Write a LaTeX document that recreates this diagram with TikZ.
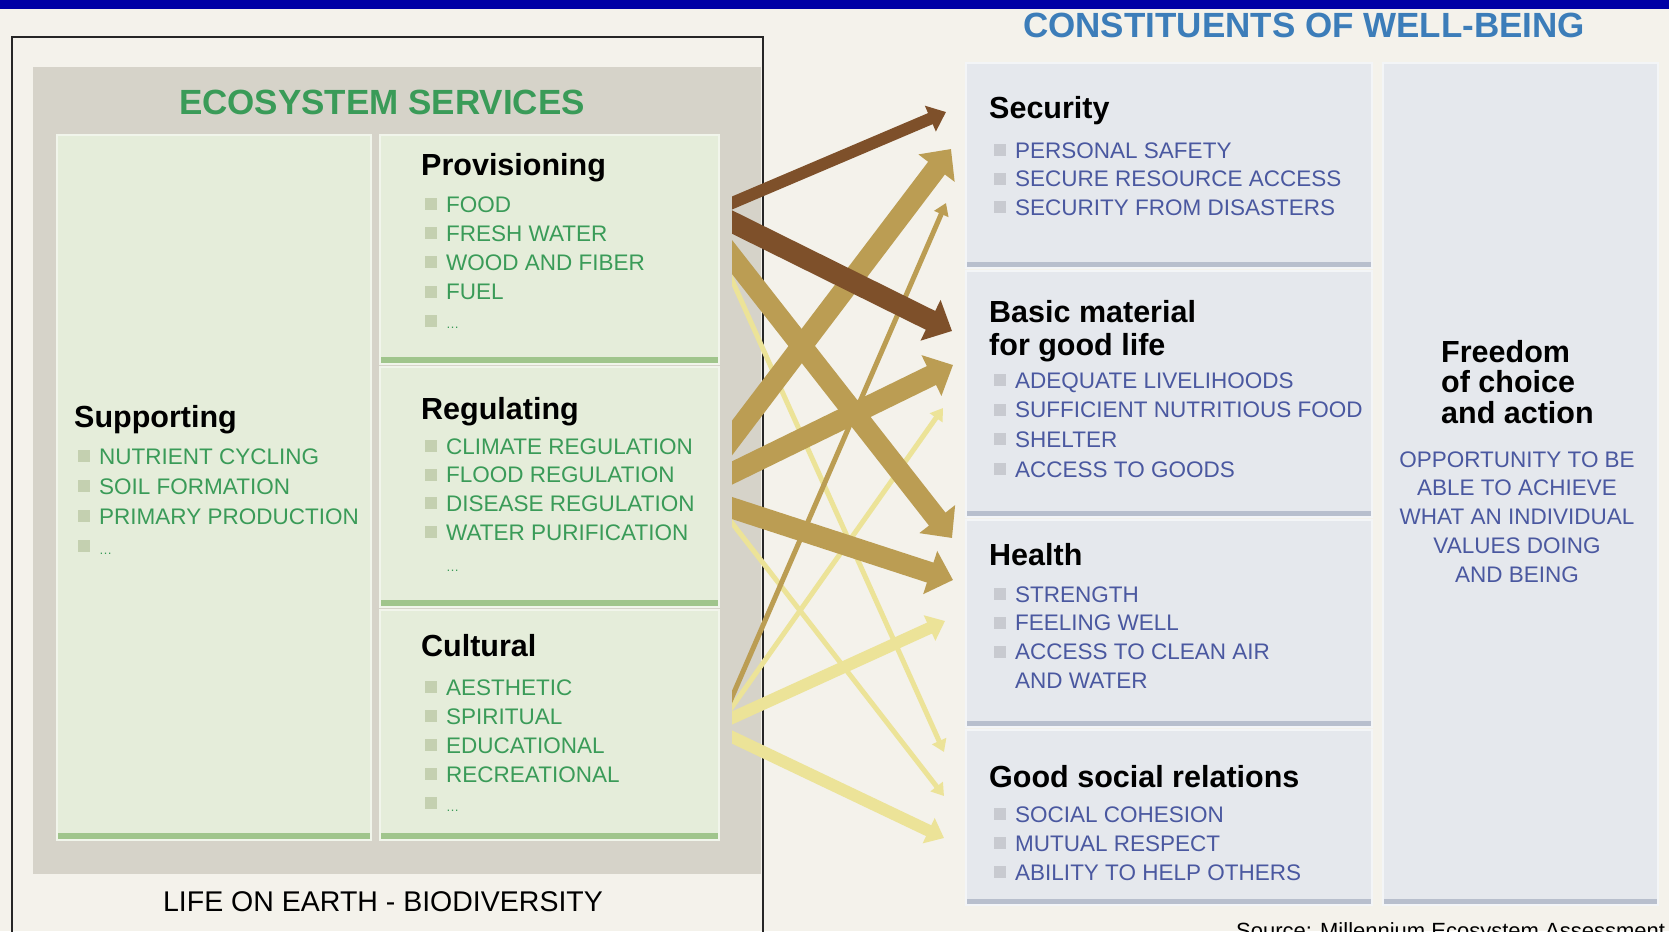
\documentclass[tikz,border=0pt]{standalone}
\usepackage{fontspec}
\setmainfont{Liberation Sans}
\usetikzlibrary{arrows.meta,calc}

\definecolor{bgcream}{RGB}{244,242,235}
\definecolor{topblue}{RGB}{0,0,165}
\definecolor{panelgray}{RGB}{214,211,201}
\definecolor{esgreen}{RGB}{229,237,218}
\definecolor{esbar}{RGB}{160,197,140}
\definecolor{estext}{RGB}{58,155,88}
\definecolor{esbullet}{RGB}{196,208,176}
\definecolor{wbfill}{RGB}{229,232,237}
\definecolor{wbbar}{RGB}{184,191,205}
\definecolor{wbtext}{RGB}{74,88,160}
\definecolor{wbtitle}{RGB}{60,125,185}
\definecolor{wbbullet}{RGB}{200,202,208}
\definecolor{linkbrown}{RGB}{126,80,42}
\definecolor{linktan}{RGB}{187,157,83}
\definecolor{linkyellow}{RGB}{236,227,152}

\newcommand{\gbul}{{\color{esbullet}\rule[2pt]{12pt}{12pt}}\hspace{9pt}}
\newcommand{\bbul}{{\color{wbbullet}\rule[2pt]{12pt}{12pt}}\hspace{9pt}}
\newcommand{\fewdots}{{\fontsize{13}{13}\selectfont\ldots}}

\tikzset{
  esbox/.style={fill=esgreen, draw=white!45!esgreen, line width=1.5pt, inner sep=0pt,
    path picture={\fill[esbar] ([yshift=7pt]path picture bounding box.south west)
      rectangle (path picture bounding box.south east);}},
  wbbox/.style={fill=wbfill, draw=white!55!wbfill, line width=1.5pt, inner sep=0pt,
    path picture={\fill[wbbar] ([yshift=6pt]path picture bounding box.south west)
      rectangle (path picture bounding box.south east);}},
  boxtitle/.style={anchor=base west, inner sep=0pt, font=\fontsize{30.5}{36}\bfseries\selectfont},
  esitem/.style={anchor=base west, inner sep=0pt, text=estext, font=\fontsize{22.5}{27}\selectfont},
  wbitem/.style={anchor=base west, inner sep=0pt, text=wbtext, font=\fontsize{22.5}{27}\selectfont},
  link/.style={shorten <=-25pt},
  strong/.style={line width=21pt, -{Triangle[length=24pt,width=44pt]}},
  medium/.style={line width=12pt, -{Triangle[length=17pt,width=27pt]}},
  weak/.style={line width=5pt, -{Triangle[length=12pt,width=15pt]}},
}

\begin{document}
\begin{tikzpicture}[x=1pt,y=-1pt]
  \useasboundingbox (0,0) rectangle (1669,931);
  \fill[bgcream] (0,0) rectangle (1669,931);
  \fill[topblue] (0,0) rectangle (1669,9);

  % ecosystem services side
  \draw[line width=2pt, draw=black!85] (12,37) rectangle (763,990);
  \fill[panelgray] (33,67) rectangle (761,874);
  \node[anchor=base, inner sep=0pt, text=estext, font=\fontsize{35}{40}\bfseries\selectfont]
    (es-title) at (382,115) {ECOSYSTEM SERVICES};

  \node[esbox, minimum width=314pt, minimum height=705pt] (supp) at (214,487.5) {};
  \node[esbox, minimum width=339pt, minimum height=229pt] (prov) at (549.5,249.5) {};
  \node[esbox, minimum width=339pt, minimum height=240pt] (reg) at (549.5,487) {};
  \node[esbox, minimum width=339pt, minimum height=230pt] (cult) at (549.5,725) {};

  \node[boxtitle] (supp-title) at (74,427) {Supporting};
  \foreach \txt [count=\i] in {NUTRIENT CYCLING, SOIL FORMATION, PRIMARY PRODUCTION, \fewdots}
    \node[esitem] (supp-\i) at (78,{464+30*(\i-1)}) {\gbul\txt};

  \node[boxtitle] (prov-title) at (421,175) {Provisioning};
  \foreach \txt [count=\i] in {FOOD, FRESH WATER, WOOD AND FIBER, FUEL, \fewdots}
    \node[esitem] (prov-\i) at (425,{212+29.2*(\i-1)}) {\gbul\txt};

  \node[boxtitle] (reg-title) at (421,419) {Regulating};
  \foreach \txt [count=\i] in {CLIMATE REGULATION, FLOOD REGULATION, DISEASE REGULATION, WATER PURIFICATION}
    \node[esitem] (reg-\i) at (425,{454+28.7*(\i-1)}) {\gbul\txt};
  \node[esitem] (reg-5) at (446,571) {\fewdots};

  \node[boxtitle] (cult-title) at (421,656) {Cultural};
  \foreach \txt [count=\i] in {AESTHETIC, SPIRITUAL, EDUCATIONAL, RECREATIONAL, \fewdots}
    \node[esitem] (cult-\i) at (425,{695+29*(\i-1)}) {\gbul\txt};

  \node[anchor=base, inner sep=0pt, font=\fontsize{28.5}{32}\selectfont]
    (biodiv) at (383,911) {LIFE ON EARTH - BIODIVERSITY};

  % well-being side
  \node[anchor=base west, inner sep=0pt, text=wbtitle, font=\fontsize{35}{40}\bfseries\selectfont]
    (wb-title) at (1023,38) {CONSTITUENTS OF WELL-BEING};

  \node[wbbox, minimum width=406pt, minimum height=205pt] (sec) at (1169,165.5) {};
  \node[wbbox, minimum width=406pt, minimum height=246pt] (basic) at (1169,394) {};
  \node[wbbox, minimum width=406pt, minimum height=207pt] (health) at (1169,623.5) {};
  \node[wbbox, minimum width=406pt, minimum height=175pt] (social) at (1169,817.5) {};
  \node[wbbox, minimum width=275pt, minimum height=842pt] (free) at (1520.5,484) {};

  \node[boxtitle] (sec-title) at (989,119) {Security};
  \foreach \txt [count=\i] in {PERSONAL SAFETY, SECURE RESOURCE ACCESS, SECURITY FROM DISASTERS}
    \node[wbitem] (sec-\i) at (994,{158+28.5*(\i-1)}) {\bbul\txt};

  \node[boxtitle] (basic-title) at (989,322) {Basic material};
  \node[boxtitle] (basic-title2) at (989,355) {for good life};
  \foreach \txt [count=\i] in {ADEQUATE LIVELIHOODS, SUFFICIENT NUTRITIOUS FOOD, SHELTER, ACCESS TO GOODS}
    \node[wbitem] (basic-\i) at (994,{388+29.7*(\i-1)}) {\bbul\txt};

  \node[boxtitle] (health-title) at (989,565) {Health};
  \foreach \txt [count=\i] in {STRENGTH, FEELING WELL, ACCESS TO CLEAN AIR}
    \node[wbitem] (health-\i) at (994,{602+28.8*(\i-1)}) {\bbul\txt};
  \node[wbitem] (health-4) at (1015,688) {AND WATER};

  \node[boxtitle] (social-title) at (989,787) {Good social relations};
  \foreach \txt [count=\i] in {SOCIAL COHESION, MUTUAL RESPECT, ABILITY TO HELP OTHERS}
    \node[wbitem] (social-\i) at (994,{822+29*(\i-1)}) {\bbul\txt};

  \foreach \txt [count=\i] in {Freedom, of choice, and action}
    \node[boxtitle] (free-title-\i) at (1441,{362+30.5*(\i-1)}) {\txt};
  \foreach \txt [count=\i] in {OPPORTUNITY TO BE, ABLE TO ACHIEVE, WHAT AN INDIVIDUAL, VALUES DOING, AND BEING}
    \node[wbitem, anchor=base] (free-\i) at (1517,{467+28.75*(\i-1)}) {\txt};

  \node[anchor=base west, inner sep=0pt, font=\fontsize{22}{26}\selectfont]
    (source) at (1236,938) {Source: Millennium Ecosystem Assessment};

  % link ends
  \coordinate (p-sec) at (732,203);    \coordinate (sec-p) at (946,112);
  \coordinate (p-basic) at (732,222);  \coordinate (basic-p) at (952,331);
  \coordinate (p-health) at (732,257); \coordinate (health-p) at (952,538);
  \coordinate (p-social) at (732,280); \coordinate (social-p) at (944,752);
  \coordinate (r-sec) at (732,438);    \coordinate (sec-r) at (951,149);
  \coordinate (r-basic) at (732,473);  \coordinate (basic-r) at (953,365);
  \coordinate (r-health) at (732,508); \coordinate (health-r) at (953,580);
  \coordinate (r-social) at (732,523); \coordinate (social-r) at (944,796);
  \coordinate (c-sec) at (732,697);    \coordinate (sec-c) at (946,203);
  \coordinate (c-basic) at (732,707);  \coordinate (basic-c) at (943,408);
  \coordinate (c-health) at (732,718); \coordinate (health-c) at (945,621);
  \coordinate (c-social) at (732,737); \coordinate (social-c) at (944,838);

  \begin{scope}
    \clip (732,0) rectangle (1669,931);
    % weak mediation
    \draw[link, weak, linkyellow] (p-social) -- (social-p);
    \draw[link, weak, linkyellow] (r-social) -- (social-r);
    \draw[link, weak, linkyellow] (c-basic) -- (basic-c);
    \draw[link, medium, linkyellow] (c-health) -- (health-c);
    \draw[link, medium, linkyellow] (c-social) -- (social-c);
    % medium mediation
    \draw[link, weak, linktan] (c-sec) -- (sec-c);
    \draw[link, strong, linktan] (r-sec) -- (sec-r);
    \draw[link, strong, linktan] (r-basic) -- (basic-r);
    \draw[link, strong, linktan] (r-health) -- (health-r);
    \draw[link, strong, linktan] (p-health) -- (health-p);
    % high mediation
    \draw[link, medium, linkbrown] (p-sec) -- (sec-p);
    \draw[link, strong, linkbrown] (p-basic) -- (basic-p);
  \end{scope}
\end{tikzpicture}
\end{document}
